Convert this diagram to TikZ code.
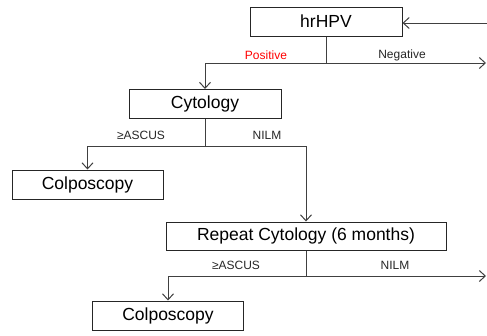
\documentclass[tikz,border=0pt]{standalone}
\usepackage{fontspec}
\setmainfont{Liberation Sans}
\usetikzlibrary{arrows.meta}
\begin{document}
\begin{tikzpicture}[x=1pt,y=-1pt,
  line width=1pt,
  box/.style={draw=black!85, fill=white, inner sep=0pt, minimum height=29pt,
    font=\fontsize{17.5}{20}\selectfont},
  lbl/.style={font=\fontsize{12}{14}\selectfont, text=black!85, inner sep=0pt},
  link/.style={draw=black!75},
  arr/.style={link, -{Straight Barb[length=6pt,width=11pt,line width=1pt]}}]
  \useasboundingbox (0,0) rectangle (487,335);

  % boxes
  \node[box, minimum width=152pt] (hr)   at (326,21.5)  {hrHPV};
  \node[box, minimum width=152pt] (cyt)  at (205,104)   {Cytology};
  \node[box, minimum width=151pt] (col1) at (87.5,184.5){Colposcopy};
  \node[box, minimum width=280pt, minimum height=28pt] (rep) at (306,236) {Repeat Cytology (6 months)};
  \node[box, minimum width=151pt] (col2) at (168,315.5) {Colposcopy};

  % branch points and free ends
  \coordinate (j1) at (326,63);
  \coordinate (j2) at (205,146);
  \coordinate (j3) at (306,276);
  \coordinate (inStart) at (487,23);
  \coordinate (negEnd) at (486,63);
  \coordinate (nilmEnd) at (486,276);

  % connectors
  \draw[arr] (inStart) -- (inStart -| hr.east);
  \draw[link] (hr.south) -- (j1);
  \draw[arr] (j1) -| (cyt.north);
  \draw[arr] (j1) -- (negEnd);

  \draw[link] (cyt.south) -- (j2);
  \draw[arr] (j2) -| (col1.north);
  \draw[arr] (j2) -| (rep.north);

  \draw[link] (rep.south) -- (j3);
  \draw[arr] (j3) -| (col2.north);
  \draw[arr] (j3) -- (nilmEnd);

  % branch labels
  \node[lbl, text=red] (pos) at (266,55) {Positive};
  \node[lbl] (neg) at (402,55) {Negative};
  \node[lbl] (asc1) at (141,135) {≥ASCUS};
  \node[lbl] (nil1) at (267,135) {NILM};
  \node[lbl] (asc2) at (236,265) {≥ASCUS};
  \node[lbl] (nil2) at (395,265) {NILM};
\end{tikzpicture}
\end{document}
